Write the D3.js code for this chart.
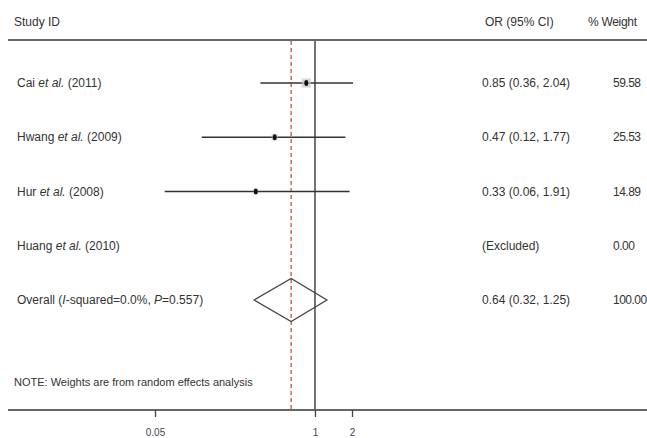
<!DOCTYPE html>
<html><head><meta charset="utf-8">
<script src="https://cdn.jsdelivr.net/npm/d3@7"></script>
<style>body{margin:0;background:#fff}text{font-family:"Liberation Sans",Arial,sans-serif}</style>
</head><body><svg id="c" width="647" height="438"></svg>
<script>
const studies = [
  {pre:"Cai ", etal:"et al.", post:" (2011)"},
  {pre:"Hwang ", etal:"et al.", post:" (2009)"},
  {pre:"Hur ", etal:"et al.", post:" (2008)"},
  {pre:"Huang ", etal:"et al.", post:" (2010)"}
];
const orValues = [0.85, 0.47, 0.33, null];
const lowerCI = [0.36, 0.12, 0.06, null];
const upperCI = [2.04, 1.77, 1.91, null];
const weights = [59.58, 25.53, 14.89, 0.00];
const orLabels = ["0.85 (0.36, 2.04)", "0.47 (0.12, 1.77)", "0.33 (0.06, 1.91)", "(Excluded)"];
const weightLabels = ["59.58", "25.53", "14.89", "0.00"];
const overall = {or:0.64, lo:0.32, hi:1.25, label:"0.64 (0.32, 1.25)", weight:"100.00"};
const tickValues = [0.05, 1, 2];
const tickLabels = ["0.05", "1", "2"];

const svg = d3.select("#c");
const x = d3.scaleLog().domain([0.05, 2]).range([155, 352]);
const y = d3.scalePoint().domain(d3.range(5)).range([83, 300]);
const txt = "#333";
const axisY = 410, headY = 40;

// header
svg.append("text").attr("x",14).attr("y",26).attr("font-size",12).attr("fill",txt).text("Study ID");
svg.append("text").attr("x",485).attr("y",26).attr("font-size",12).attr("fill",txt).text("OR (95% CI)");
svg.append("text").attr("x",588).attr("y",26).attr("font-size",12).attr("fill",txt).attr("letter-spacing",-0.3).text("% Weight");
svg.append("line").attr("x1",8).attr("x2",647).attr("y1",headY).attr("y2",headY).attr("stroke","#666").attr("stroke-width",2);

// null line and overall dashed line
svg.append("line").attr("x1",x(1)).attr("x2",x(1)).attr("y1",headY+1).attr("y2",axisY).attr("stroke","#444").attr("stroke-width",1.5);
svg.append("line").attr("x1",x(overall.or)).attr("x2",x(overall.or)).attr("y1",headY+1).attr("y2",axisY)
  .attr("stroke","#c0504d").attr("stroke-width",1.3).attr("stroke-dasharray","4,3");

// study rows
studies.forEach((s,i)=>{
  const t = svg.append("text").attr("x",17).attr("y",y(i)+4).attr("font-size",12).attr("fill",txt);
  t.append("tspan").text(s.pre);
  t.append("tspan").attr("font-style","italic").text(s.etal);
  t.append("tspan").text(s.post);
  svg.append("text").attr("x",482).attr("y",y(i)+4).attr("font-size",12).attr("fill",txt).text(orLabels[i]);
  svg.append("text").attr("x",613).attr("y",y(i)+4).attr("font-size",12).attr("fill",txt).attr("letter-spacing",-0.5).text(weightLabels[i]);
  if (orValues[i] != null) {
    svg.append("line").attr("x1",x(lowerCI[i])).attr("x2",x(upperCI[i])).attr("y1",y(i)).attr("y2",y(i))
      .attr("stroke","#333").attr("stroke-width",1.5);
    const side = 1.2*Math.sqrt(weights[i]);
    svg.append("rect").attr("x",x(orValues[i])-side/2).attr("y",y(i)-side/2).attr("width",side).attr("height",side)
      .attr("fill","#c8c8c8").attr("opacity",0.7);
    svg.append("ellipse").attr("cx",x(orValues[i])).attr("cy",y(i)).attr("rx",2).attr("ry",3).attr("fill","#111");
  }
});

// overall row
const oy = y(4);
const ot = svg.append("text").attr("x",17).attr("y",oy+4).attr("font-size",12).attr("fill",txt);
ot.append("tspan").text("Overall (");
ot.append("tspan").attr("font-style","italic").text("I");
ot.append("tspan").text("-squared=0.0%, ");
ot.append("tspan").attr("font-style","italic").text("P");
ot.append("tspan").text("=0.557)");
svg.append("text").attr("x",482).attr("y",oy+4).attr("font-size",12).attr("fill",txt).text(overall.label);
svg.append("text").attr("x",613).attr("y",oy+4).attr("font-size",12).attr("fill",txt).attr("letter-spacing",-0.5).text(overall.weight);
const dh = 21.5;
svg.append("path").attr("d",`M${x(overall.lo)},${oy}L${x(overall.or)},${oy-dh}L${x(overall.hi)},${oy}L${x(overall.or)},${oy+dh}Z`)
  .attr("fill","none").attr("stroke","#444").attr("stroke-width",1.3);

// note
svg.append("text").attr("x",14).attr("y",oy+86).attr("font-size",11).attr("fill",txt).text("NOTE: Weights are from random effects analysis");

// axis
svg.append("line").attr("x1",8).attr("x2",647).attr("y1",axisY).attr("y2",axisY).attr("stroke","#666").attr("stroke-width",2);
const ax = d3.axisBottom(x).tickValues(tickValues).tickFormat((d,i)=>tickLabels[i]).tickSize(7).tickPadding(12);
const g = svg.append("g").attr("transform",`translate(0,${axisY})`).call(ax);
g.select(".domain").remove();
g.selectAll("line").attr("stroke","#444").attr("stroke-width",1.3);
g.selectAll("text").attr("font-size",10).attr("fill","#445").attr("font-family","Liberation Sans, Arial, sans-serif");
</script></body></html>
